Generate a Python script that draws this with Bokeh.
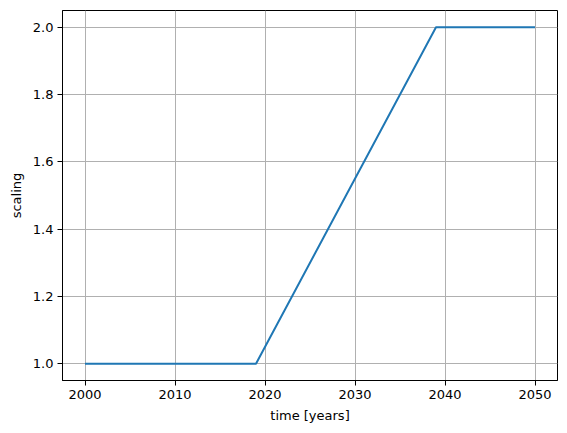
from bokeh.plotting import figure
from bokeh.embed import file_html
from bokeh.resources import INLINE
from bokeh.models import FixedTicker, PrintfTickFormatter, Range1d

years = [2000, 2019, 2039, 2050]
scaling = [1.0, 1.0, 2.0, 2.0]
x_ticks = [2000, 2010, 2020, 2030, 2040, 2050]
y_ticks = [1.0, 1.2, 1.4, 1.6, 1.8, 2.0]

p = figure(width=559, height=425, output_backend="svg", toolbar_location=None,
           x_range=Range1d(1997.5, 2052.5), y_range=Range1d(0.95, 2.05),
           min_border_left=62, min_border_right=2, min_border_top=10, min_border_bottom=45)
p.line(years, scaling, line_color="#1f77b4", line_width=2)

p.xaxis.ticker = FixedTicker(ticks=x_ticks)
p.yaxis.ticker = FixedTicker(ticks=y_ticks)
p.yaxis.formatter = PrintfTickFormatter(format="%.1f")
p.xaxis.axis_label = "time [years]"
p.yaxis.axis_label = "scaling"

for ax in (p.xaxis, p.yaxis):
    ax.axis_label_text_font = "DejaVu Sans"
    ax.axis_label_text_font_size = "13px"
    ax.axis_label_text_font_style = "normal"
    ax.axis_label_text_color = "black"
    ax.major_label_text_font = "DejaVu Sans"
    ax.major_label_text_font_size = "13px"
    ax.major_label_text_color = "black"
    ax.axis_line_color = "black"
    ax.major_tick_line_color = "black"
    ax.major_tick_out = 5
    ax.major_tick_in = 0
    ax.minor_tick_line_color = None
    ax.major_label_standoff = 4
    ax.axis_label_standoff = 6

p.grid.grid_line_color = "#b0b0b0"
p.grid.grid_line_width = 1
p.outline_line_color = "black"
p.outline_line_alpha = 1
p.background_fill_color = "white"
p.border_fill_color = "white"

open("out.html", "w").write(file_html(p, INLINE))
